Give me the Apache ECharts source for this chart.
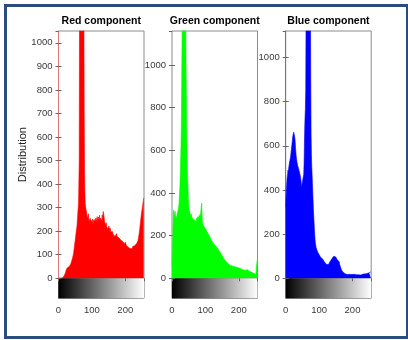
<!DOCTYPE html>
<html>
<head>
<meta charset="utf-8">
<script src="https://cdn.jsdelivr.net/npm/echarts@6/dist/echarts.min.js"></script>
<style>
html,body{margin:0;padding:0;background:#fff;}
#chart{width:408px;height:340px;}
</style>
</head>
<body>
<div id="chart"></div>
<script>
// ---- data (256 intensity bins per channel) ----
const redCounts = [
0,0,0,0,0,0,0,0,0,0,
1,1,2,2,3,5,8,10,14,17,
20,24,30,35,38,41,44,46,45,48,
48,50,52,51,55,55,58,62,66,70,
76,80,86,92,98,104,115,128,140,150,
161,172,185,198,208,217,235,255,280,300,
316,400,500,1200,1500,1800,2100,2400,2600,2700,
2600,2400,2100,1800,1500,1300,1150,700,450,370,
318,305,295,290,280,270,262,255,248,252,
274,240,250,236,245,255,238,248,232,244,
245,230,252,240,228,246,235,250,242,238,
245,232,256,240,248,236,262,244,250,238,
260,245,252,268,240,256,248,262,250,244,
258,270,248,262,284,281,290,255,240,236,
232,240,225,236,220,228,215,224,210,218,
210,222,205,215,200,212,198,206,195,203,
203,192,198,188,195,184,190,180,186,178,
182,176,185,172,190,178,183,170,186,175,
182,172,178,168,175,165,172,162,170,160,
168,158,165,155,162,150,158,148,155,145,
154,146,150,140,148,138,145,135,142,132,
140,130,138,128,135,126,134,124,132,128,
133,126,135,128,138,130,136,132,138,134,
140,135,142,138,148,145,154,150,160,168,
175,185,195,205,220,232,245,258,270,280,
288,300,310,320,330,340
];
const greenCounts = [
60,120,180,250,300,320,310,290,300,315,
305,290,280,272,285,295,305,310,318,320,
335,350,380,410,446,500,560,620,720,900,
1100,1400,1800,2200,2500,2700,2600,2400,2100,1800,
1500,1250,1000,850,700,600,507,460,420,370,
345,330,318,312,305,298,310,290,302,288,
295,280,290,276,285,270,282,268,278,272,
280,266,275,262,282,270,285,275,290,280,
285,278,295,282,300,290,310,325,340,352,
300,262,258,250,258,245,250,240,244,236,
238,230,232,225,228,218,222,212,215,208,
210,200,205,195,198,188,192,182,186,178,
182,172,176,168,172,162,166,160,165,158,
160,152,156,148,152,145,150,140,145,135,
138,130,132,124,128,120,122,115,118,110,
112,104,106,98,100,92,94,88,90,84,
86,80,82,76,78,72,75,70,72,68,
70,64,68,62,66,60,65,58,63,60,
64,58,62,56,63,57,62,55,60,56,
61,54,58,52,57,51,55,50,54,52,
53,48,52,46,50,45,49,44,48,45,
46,42,45,40,44,39,42,38,41,38,
40,36,39,35,38,36,40,35,38,36,
38,34,36,32,35,31,33,30,32,28,
30,27,28,24,25,22,20,18,15,14,
15,20,35,55,70,85
];
const blueCounts = [
324,360,400,425,450,465,475,490,480,500,
510,521,515,530,545,555,570,582,590,610,
625,640,650,658,662,665,655,640,627,600,
580,560,545,536,525,520,510,506,500,492,
488,480,476,470,462,450,440,425,415,420,
435,445,455,460,470,520,600,680,733,770,
850,1200,1600,2000,2400,2800,3000,3100,3000,2800,
2500,2200,1900,1600,1300,900,650,560,506,470,
430,390,350,309,280,250,220,195,173,160,
150,140,135,130,127,122,118,115,112,110,
108,104,100,102,97,95,98,92,96,90,
92,86,90,82,85,78,80,72,75,67,
70,65,68,62,66,60,67,62,68,64,
70,66,74,70,78,75,82,80,88,84,
90,86,95,92,100,98,105,102,108,100,
96,102,90,95,85,88,80,84,78,82,
75,68,60,55,52,48,42,38,36,33,
30,28,27,25,24,23,22,21,21,20,
21,19,20,18,20,17,19,18,20,17,
19,16,18,17,19,16,18,15,17,16,
18,15,17,16,18,15,17,16,18,15,
17,15,16,14,17,15,16,14,16,15,
17,15,18,16,17,15,18,16,17,16,
18,16,19,17,18,17,19,18,20,18,
20,19,21,20,22,21,23,22,24,23,
25,24,26,27,28,29
];
const panelTitles = ['Red component', 'Green component', 'Blue component'];
const panelColors = ['#ff0000', '#00ff00', '#0000ff'];
const yMaxes = [1050, 1160, 1120];
const yIntervals = [100, 200, 200];
const xRange = [0, 256];
const xInterval = 100;
const yLabel = 'Distribution';

// ---- layout ----
const FONT = 'Liberation Sans, Arial, sans-serif';
const lefts = [58.5, 172, 285.7];
const W = 85.5, TOP = 31, H = 247.3, BAR_H = 20;
const allCounts = [redCounts, greenCounts, blueCounts];
const plain = v => String(v);

const grid = [], xAxis = [], yAxis = [], series = [], title = [];
for (let i = 0; i < 3; i++) {
  grid.push({left: lefts[i], top: TOP, width: W, height: H, show: true, borderColor: '#8c8c8c', borderWidth: 1, containLabel: false});
  grid.push({left: lefts[i], top: TOP + H, width: W, height: BAR_H, show: true, borderColor: '#6e6e6e', borderWidth: 1, containLabel: false});
  const g = 2 * i, gb = 2 * i + 1;
  const tickStyle = {show: true, inside: true, length: 3, lineStyle: {color: '#666', width: 1}};
  xAxis.push({type: 'value', gridIndex: g, min: xRange[0], max: xRange[1], interval: xInterval,
    axisLine: {show: false}, axisTick: {show: false}, axisLabel: {show: false}, splitLine: {show: false}});
  xAxis.push({type: 'value', gridIndex: g, position: 'top', min: xRange[0], max: xRange[1], interval: xInterval,
    axisLine: {show: false}, axisTick: tickStyle, axisLabel: {show: false}, splitLine: {show: false}});
  xAxis.push({type: 'value', gridIndex: gb, min: xRange[0], max: xRange[1], interval: xInterval,
    axisLine: {show: false}, axisTick: {show: false},
    axisLabel: {show: true, margin: 7, fontSize: 9.5, color: '#3a3a3a', fontFamily: FONT, showMaxLabel: false, formatter: plain},
    splitLine: {show: false}});
  yAxis.push({type: 'value', gridIndex: g, min: 0, max: yMaxes[i], interval: yIntervals[i],
    axisLine: {show: i === 2, lineStyle: {color: '#6a6ae0'}}, axisTick: tickStyle,
    axisLabel: {show: true, margin: 6, fontSize: 9.5, color: '#3a3a3a', fontFamily: FONT, showMaxLabel: false, formatter: plain},
    splitLine: {show: false},
    name: i === 0 ? yLabel : '', nameLocation: 'middle', nameGap: 30, nameRotate: 90, nameMoveOverlap: false,
    nameTextStyle: {fontSize: 11, color: '#222', fontFamily: FONT}});
  yAxis.push({type: 'value', gridIndex: g, position: 'right', min: 0, max: yMaxes[i], interval: yIntervals[i],
    axisLine: {show: i === 0, lineStyle: {color: '#e07a7a'}}, axisTick: tickStyle, axisLabel: {show: false}, splitLine: {show: false}});
  yAxis.push({type: 'value', gridIndex: gb, min: 0, max: 1, show: false});

  series.push({
    type: 'line', xAxisIndex: 3 * i, yAxisIndex: 3 * i, clip: true, showSymbol: false, symbol: 'none',
    data: allCounts[i].map((c, k) => [k, c]),
    lineStyle: {width: 0.6, color: panelColors[i]},
    areaStyle: {color: panelColors[i], opacity: 1},
    itemStyle: {color: panelColors[i]}, z: 1
  });
  series.push({
    type: 'custom', xAxisIndex: 3 * i + 2, yAxisIndex: 3 * i + 2,
    data: [[xRange[0], 1, xRange[1], 0]],
    renderItem: function (params, api) {
      const p0 = api.coord([api.value(0), api.value(1)]);
      const p1 = api.coord([api.value(2), api.value(3)]);
      return {type: 'rect', shape: {x: p0[0], y: p0[1], width: p1[0] - p0[0], height: p1[1] - p0[1]},
        style: {fill: new echarts.graphic.LinearGradient(0, 0, 1, 0, [{offset: 0, color: '#000'}, {offset: 1, color: '#fff'}])}};
    }, z: 0
  });
  title.push({text: panelTitles[i], left: lefts[i] + W / 2, top: 15.5, textAlign: 'center', padding: 0,
    textStyle: {fontSize: 10.5, fontWeight: 'bold', color: '#000', fontFamily: FONT}});
}

const chart = echarts.init(document.getElementById('chart'), null, {renderer: 'canvas'});
chart.setOption({
  animation: false,
  backgroundColor: '#fff',
  title: title,
  grid: grid,
  xAxis: xAxis,
  yAxis: yAxis,
  series: series,
  graphic: [{type: 'rect', left: 3, top: 3, shape: {x: 0, y: 0, width: 402, height: 332},
    style: {fill: 'none', stroke: '#2b4c7e', lineWidth: 3}, z: 100}]
});
</script>
</body>
</html>
